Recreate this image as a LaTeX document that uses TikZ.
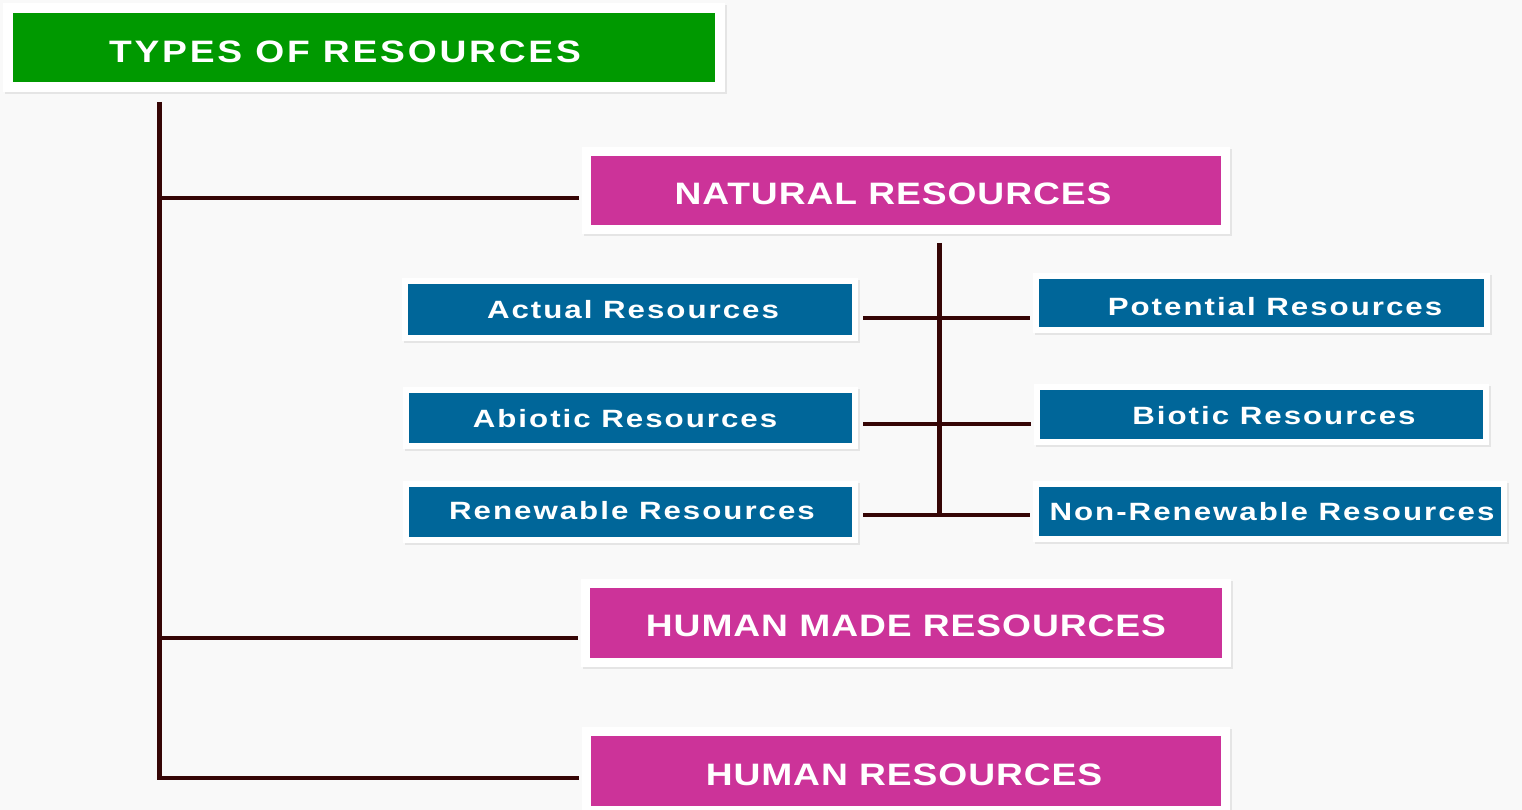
\documentclass[tikz,border=0pt]{standalone}
\usepackage{fontspec}
\newfontfamily\titlefont[FakeStretch=1.2,LetterSpace=9]{Liberation Sans}
\newfontfamily\bigfont[FakeStretch=1.2,LetterSpace=3]{Liberation Sans}
\newfontfamily\smallfont[FakeStretch=1.25,LetterSpace=8]{Liberation Sans}
\usetikzlibrary{calc}
\definecolor{bgc}{HTML}{F9F9F9}
\definecolor{grn}{HTML}{009900}
\definecolor{mag}{HTML}{CC3399}
\definecolor{blu}{HTML}{006699}
\definecolor{lnc}{HTML}{360606}
\begin{document}
\begin{tikzpicture}[x=1pt,y=-1pt,
  box/.style={rectangle, inner sep=0pt, draw=white,
    preaction={draw=black!10, transform canvas={shift={(1.5pt,-2pt)}}}},
  titlebox/.style={box, fill=grn, line width=10pt, minimum width=712pt, minimum height=79pt},
  pinkbox/.style={box, fill=mag, line width=9pt, minimum width=639pt, minimum height=78pt},
  bluebox/.style={box, fill=blu, line width=6pt, minimum width=450pt, minimum height=56pt},
  ttxt/.style={inner sep=0pt, text=white, font=\titlefont\bfseries\fontsize{31}{37}\selectfont},
  ptxt/.style={inner sep=0pt, text=white, font=\bigfont\bfseries\fontsize{31}{37}\selectfont},
  btxt/.style={inner sep=0pt, text=white, font=\smallfont\bfseries\fontsize{25}{30}\selectfont},
  trunk/.style={draw=lnc, line width=5pt},
  branch/.style={draw=lnc, line width=3.5pt}]
\useasboundingbox (0,0) rectangle (1522,810);
\fill[bgc] (0,0) rectangle (1522,810);

% boxes
\node[titlebox, label={[ttxt,xshift=-19pt,yshift=-4pt]center:TYPES OF RESOURCES}] (title) at (364,47.5) {};
\node[pinkbox, label={[ptxt,xshift=-13pt,yshift=-3.5pt]center:NATURAL RESOURCES}] (nat) at (906,190.5) {};
\node[pinkbox, minimum width=641pt, minimum height=79pt, label={[ptxt,yshift=-3pt]center:HUMAN MADE RESOURCES}] (hmr) at (906,623) {};
\node[pinkbox, minimum height=79pt, label={[ptxt,xshift=-2pt,yshift=-4pt]center:HUMAN RESOURCES}] (hr) at (906,771) {};

\node[bluebox, minimum height=57pt, label={[btxt,xshift=3pt]center:Actual Resources}] (act) at (630,309.5) {};
\node[bluebox, minimum width=449pt, label={[btxt,xshift=-5.5pt,yshift=-0.5pt]center:Abiotic Resources}] (abi) at (630.5,418) {};
\node[bluebox, minimum width=449pt, label={[btxt,xshift=1.5pt,yshift=1.5pt]center:Renewable Resources}] (ren) at (630.5,512) {};
\node[bluebox, minimum width=451pt, minimum height=54pt, label={[btxt,xshift=13.5pt,yshift=-4pt]center:Potential Resources}] (pot) at (1261.5,303) {};
\node[bluebox, minimum width=449pt, minimum height=55pt, label={[btxt,xshift=12.5pt,yshift=-1pt]center:Biotic Resources}] (bio) at (1261.5,414.5) {};
\node[bluebox, minimum width=468pt, minimum height=55pt, label={[btxt,xshift=2pt]center:Non-Renewable Resources}] (nrr) at (1270,511.5) {};

% main trunk
\coordinate (ttop) at (159,102);
\coordinate (r1) at (159,198);
\coordinate (r2) at (159,638);
\coordinate (r3) at (159,778);
\draw[trunk] (ttop) -- ($(r3)+(0,1.75)$);
\draw[branch, shorten >=3pt] (r1) -- (nat.west |- r1);
\draw[branch, shorten >=3pt] (r2) -- (hmr.west |- r2);
\draw[branch, shorten >=3pt] (r3) -- (hr.west |- r3);

% natural resources stem
\coordinate (stop) at (939,243);
\coordinate (s1) at (939,318);
\coordinate (s2) at (939,424);
\coordinate (s3) at (939,515);
\draw[trunk] (stop) -- ($(s3)+(0,1.75)$);
\draw[branch, shorten <=5pt, shorten >=3pt] (act.east |- s1) -- (pot.west |- s1);
\draw[branch, shorten <=5pt, shorten >=3pt] (abi.east |- s2) -- (bio.west |- s2);
\draw[branch, shorten <=5pt, shorten >=3pt] (ren.east |- s3) -- (nrr.west |- s3);
\end{tikzpicture}
\end{document}
